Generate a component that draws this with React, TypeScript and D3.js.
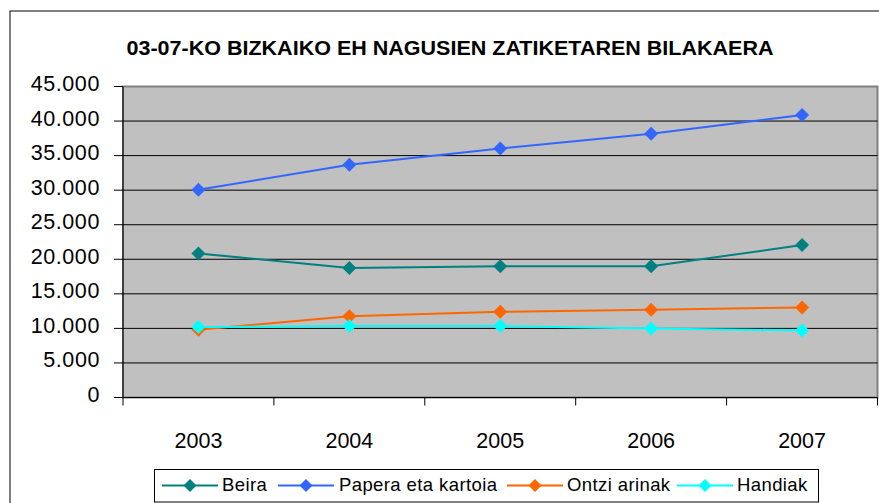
import React from "react";
import * as d3 from "d3";

const years = ["2003", "2004", "2005", "2006", "2007"];
const beira = [20850, 18750, 18980, 18980, 22060];
const papera = [30050, 33680, 36030, 38150, 40890];
const ontzi = [9810, 11770, 12400, 12690, 13030];
const handiak = [10190, 10330, 10330, 10000, 9710];
const yTicks = [0, 5000, 10000, 15000, 20000, 25000, 30000, 35000, 40000, 45000];
const seriesNames = ["Beira", "Papera eta kartoia", "Ontzi arinak", "Handiak"];
const seriesColors = ["#008080", "#3366FF", "#FF6600", "#00FFFF"];
const title = "03-07-KO BIZKAIKO EH NAGUSIEN ZATIKETAREN BILAKAERA";

const W = 879;
const H = 503;
const plot = { left: 123, right: 877.5, top: 86.5, bottom: 397.5 };

export default function App() {
  const x = d3.scaleBand<string>().domain(years).range([plot.left, plot.right]);
  const y = d3.scaleLinear().domain([0, 45000]).range([plot.bottom, plot.top]);
  const fmt = (v: number) => (v === 0 ? "0" : d3.format(",")(v).replace(/,/g, "."));
  const series = [beira, papera, ontzi, handiak];
  const line = d3
    .line<number>()
    .x((_, i) => (x(years[i]) as number) + x.bandwidth() / 2)
    .y((v) => y(v));
  const diamond = (cx: number, cy: number, r: number) =>
    `M${cx},${cy - r}L${cx + r},${cy}L${cx},${cy + r}L${cx - r},${cy}Z`;
  const font = "'Liberation Sans', Arial, sans-serif";

  const legendItems = [
    { lx: 162, tx: 222 },
    { lx: 278, tx: 339 },
    { lx: 507, tx: 567 },
    { lx: 677, tx: 737 },
  ];

  return (
    <svg
      width={W}
      height={H}
      style={{ position: "absolute", left: 0, top: 0, display: "block", background: "#fff" }}
      fontFamily={font}
    >
      <rect x={10} y={11} width={900} height={540} fill="#fff" stroke="#000" strokeWidth={1} />
      <text
        x={450}
        y={55}
        textAnchor="middle"
        fontSize={20}
        fontWeight="bold"
        textLength={647}
        lengthAdjust="spacingAndGlyphs"
        fill="#000"
      >
        {title}
      </text>
      <rect
        x={plot.left}
        y={plot.top}
        width={plot.right - plot.left}
        height={plot.bottom - plot.top}
        fill="#C0C0C0"
        stroke="#808080"
        strokeWidth={2}
      />
      {yTicks.slice(1, -1).map((t) => (
        <line key={"g" + t} x1={plot.left} x2={plot.right} y1={y(t)} y2={y(t)} stroke="#000" strokeWidth={1} />
      ))}
      {/* y axis */}
      <line x1={plot.left} x2={plot.left} y1={plot.top} y2={plot.bottom + 8} stroke="#000" strokeWidth={1} />
      {yTicks.map((t) => (
        <g key={"yt" + t}>
          <line x1={plot.left - 9} x2={plot.left} y1={y(t)} y2={y(t)} stroke="#000" strokeWidth={1} />
          <text x={100} y={y(t) + 4.5} textAnchor="end" fontSize={21.5} letterSpacing={0.6} fill="#000">
            {fmt(t)}
          </text>
        </g>
      ))}
      {/* x axis */}
      <line x1={plot.left} x2={plot.right} y1={plot.bottom} y2={plot.bottom} stroke="#000" strokeWidth={1} />
      {years.map((yr) => (
        <line
          key={"xt" + yr}
          x1={(x(yr) as number) + x.bandwidth()}
          x2={(x(yr) as number) + x.bandwidth()}
          y1={plot.bottom}
          y2={plot.bottom + 8}
          stroke="#000"
          strokeWidth={1}
        />
      ))}
      {years.map((yr) => (
        <text
          key={"xl" + yr}
          x={(x(yr) as number) + x.bandwidth() / 2}
          y={448}
          textAnchor="middle"
          fontSize={21.5}
          fill="#000"
        >
          {yr}
        </text>
      ))}
      {series.map((s, si) => (
        <g key={"s" + si}>
          <path d={line(s) || ""} fill="none" stroke={seriesColors[si]} strokeWidth={2} />
          {s.map((v, i) => (
            <path
              key={i}
              d={diamond((x(years[i]) as number) + x.bandwidth() / 2, y(v), 7)}
              fill={seriesColors[si]}
            />
          ))}
        </g>
      ))}
      {/* legend */}
      <rect x={154.5} y={469.5} width={664} height={32.5} fill="#fff" stroke="#000" strokeWidth={1} />
      {seriesNames.map((n, i) => (
        <g key={"lg" + i}>
          <line
            x1={legendItems[i].lx}
            x2={legendItems[i].lx + 56}
            y1={485.5}
            y2={485.5}
            stroke={seriesColors[i]}
            strokeWidth={2}
          />
          <path d={diamond(legendItems[i].lx + 28, 485.5, 6.5)} fill={seriesColors[i]} />
          <text x={legendItems[i].tx} y={491} fontSize={18.5} letterSpacing={0.4} fill="#000">
            {n}
          </text>
        </g>
      ))}
    </svg>
  );
}
